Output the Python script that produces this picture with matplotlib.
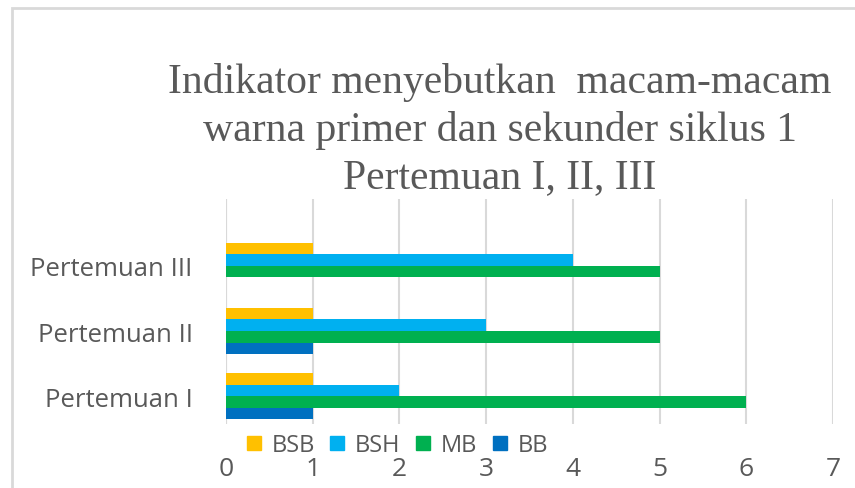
import matplotlib.pyplot as plt
from matplotlib.patches import Rectangle
from matplotlib.lines import Line2D

categories = ['Pertemuan I', 'Pertemuan II', 'Pertemuan III']
series = ['BSB', 'BSH', 'MB', 'BB']
bsb = [1, 1, 1]
bsh = [2, 3, 4]
mb = [6, 5, 5]
bb = [1, 1, 0]
colors = ['#FFC000', '#00B0F0', '#00B050', '#0070C0']
title = 'Indikator menyebutkan  macam-macam\nwarna primer dan sekunder siklus 1\nPertemuan I, II, III'

fig = plt.figure(figsize=(8.55, 4.89), dpi=100)
ax = fig.add_axes([226 / 855, 1 - 425 / 489, (833 - 226) / 855, 225 / 489])

h = 0.177
offsets = [1.5, 0.5, -0.5, -1.5]
ypos = list(range(len(categories)))
for vals, off, c in zip([bsb, bsh, mb, bb], offsets, colors):
    ax.barh([y + off * h for y in ypos], vals, height=h, color=c, zorder=3)

ax.set_xlim(0, 7)
ax.set_ylim(-0.43, 3.03)
ax.set_xticks(range(8))
ax.set_yticks(ypos)
ax.set_yticklabels(categories)
ax.grid(axis='x', color='#d9d9d9', lw=1.5, zorder=0)
ax.axvline(0, color='#d9d9d9', lw=1.5, zorder=1)
for s in ax.spines.values():
    s.set_visible(False)
ax.tick_params(axis='x', length=0, pad=23, labelsize=19, labelcolor='#595959')
ax.tick_params(axis='y', length=0, pad=24, labelsize=18.5, labelcolor='#595959')
for lab in ax.get_xticklabels() + ax.get_yticklabels():
    lab.set_family('Open Sans')

fig.text(500 / 855, 1 - 130 / 489, title, ha='center', va='center',
         family='Liberation Serif', fontsize=30, color='#595959',
         linespacing=1.3)

handles = [Line2D([], [], marker='s', ls='', color=c, markersize=10) for c in colors]
fig.legend(handles, series, loc='center', bbox_to_anchor=(395 / 855, 1 - 446 / 489),
           ncol=4, frameon=False, handletextpad=0.25, columnspacing=0.45,
           handlelength=1.0, borderpad=0,
           prop={'family': 'Open Sans', 'size': 17}, labelcolor='#595959')

fig.patches.append(Rectangle((12 / 855, -0.1), 1.0, 1.1 - 9 / 489,
                             transform=fig.transFigure, fill=False,
                             ec='#d9d9d9', lw=2))

fig.savefig('out.png', dpi=100)
